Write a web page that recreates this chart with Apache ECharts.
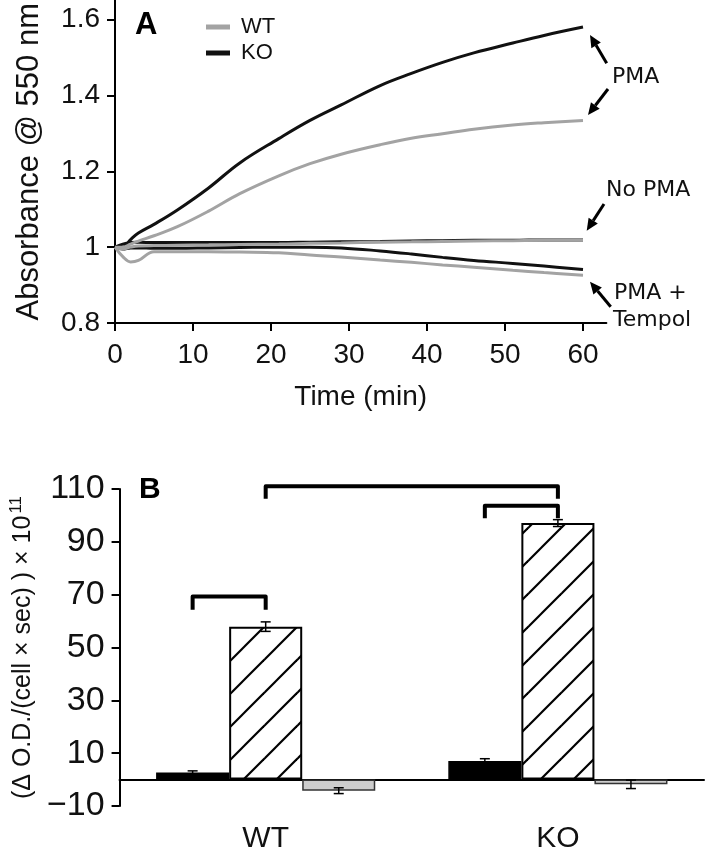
<!DOCTYPE html>
<html><head><meta charset="utf-8">
<script src="https://cdn.jsdelivr.net/npm/echarts@6/dist/echarts.min.js"></script>
<style>html,body{margin:0;padding:0;background:#fff}#c{width:709px;height:854px}</style>
</head><body><div id="c"></div>
<script>
// ---- Panel A data (time in min, absorbance @ 550 nm) ----
const timeMin   = [0, 1, 2, 3, 5, 8, 12, 16, 21, 25, 29, 34, 38, 42, 46, 51, 55, 60];
const koPMA     = [1.0, 1.0, 1.02, 1.037, 1.06, 1.098, 1.156, 1.222, 1.286, 1.334, 1.375, 1.426, 1.458, 1.487, 1.512, 1.538, 1.558, 1.58];
const koNoPMA   = [1.0, 1.008, 1.012, 1.013, 1.012, 1.012, 1.012, 1.012, 1.012, 1.013, 1.014, 1.015, 1.016, 1.017, 1.018, 1.018, 1.019, 1.019];
const koTempol  = [1.0, 0.995, 0.998, 0.998, 0.997, 0.997, 0.998, 0.999, 1.0, 1.0, 0.998, 0.99, 0.982, 0.973, 0.965, 0.957, 0.95, 0.941];
const wtPMA     = [1.0, 1.0, 1.008, 1.016, 1.03, 1.054, 1.095, 1.141, 1.188, 1.22, 1.245, 1.27, 1.287, 1.299, 1.311, 1.322, 1.328, 1.334];
const wtNoPMA   = [1.0, 0.995, 1.0, 1.003, 1.004, 1.005, 1.006, 1.007, 1.008, 1.01, 1.011, 1.013, 1.014, 1.015, 1.016, 1.017, 1.018, 1.018];
const wtTempol  = [1.0, 0.975, 0.961, 0.965, 0.988, 0.988, 0.988, 0.987, 0.985, 0.979, 0.974, 0.966, 0.96, 0.953, 0.947, 0.939, 0.933, 0.926];
const xTicksA   = [0, 10, 20, 30, 40, 50, 60];
const yTicksA   = [0.8, 1.0, 1.2, 1.4, 1.6];

// ---- Panel B data ----
const groups      = ['WT', 'KO'];
const ctrlVals    = [2.7, 7.0];
const ctrlErr     = [0.6, 0.9];
const pmaVals     = [57.9, 97.1];
const pmaErr      = [1.8, 1.3];
const tempolVals  = [-4.2, -1.8];
const tempolErr   = [1.1, 1.6];
const yTicksB     = [-10, 10, 30, 50, 70, 90, 110];
// brackets: [leftGroup, leftBar, rightGroup, rightBar, topValue, legEndValue]
const brackets    = [[0, 0, 0, 1, 69.3, 64.3], [1, 0, 1, 1, 103.7, 98.9], [0, 1, 1, 1, 111, 106.3]];

const GRAY = '#a3a3a3', BLACK = '#111';
const FONT = '"Liberation Sans", Arial, sans-serif';
const DFONT = '"DejaVu Sans", sans-serif';

function pts(arr) { return timeMin.map((t, i) => [t, arr[i]]); }
function lineSeries(name, arr, color) {
  return { type: 'line', name: name, xAxisIndex: 0, yAxisIndex: 0, data: pts(arr), showSymbol: false,
    smooth: 0.4, color: color, lineStyle: { color: color, width: 3 }, itemStyle: { color: color }, animation: false };
}
function hatch() {
  const s = 33, c = document.createElement('canvas'); c.width = s; c.height = s;
  const g = c.getContext('2d'); g.fillStyle = '#fff'; g.fillRect(0, 0, s, s);
  g.strokeStyle = '#000'; g.lineWidth = 2.2;
  for (const o of [-s, 0, s]) { g.beginPath(); g.moveTo(o - 1, s + 1); g.lineTo(o + s + 1, -1); g.stroke(); }
  return c;
}
function errSeries(vals, errs, barIdx) {
  return { type: 'custom', xAxisIndex: 1, yAxisIndex: 1, z: 5, animation: false,
    data: vals.map((v, i) => [i, v, errs[i]]),
    renderItem: function (params, api) {
      const bw = api.size([1, 0])[0];
      const c = api.coord([api.value(0), api.value(1)]);
      const x = c[0] + (barIdx - 1) * bw * 0.25;
      const y1 = api.coord([api.value(0), api.value(1) + api.value(2)])[1];
      const y2 = api.coord([api.value(0), api.value(1) - api.value(2)])[1];
      const st = { stroke: '#000', lineWidth: 1.5 };
      return { type: 'group', children: [
        { type: 'line', shape: { x1: x, y1: y1, x2: x, y2: y2 }, style: st },
        { type: 'line', shape: { x1: x - 5, y1: y1, x2: x + 5, y2: y1 }, style: st },
        { type: 'line', shape: { x1: x - 5, y1: y2, x2: x + 5, y2: y2 }, style: st } ] };
    } };
}
function arrow(x1, y1, x2, y2) {
  const a = Math.atan2(y2 - y1, x2 - x1), L = 12, W = 5.5;
  const bx = x2 - L * Math.cos(a), by = y2 - L * Math.sin(a);
  return [
    { type: 'line', shape: { x1: x1, y1: y1, x2: bx, y2: by }, style: { stroke: '#000', lineWidth: 3 } },
    { type: 'polygon', shape: { points: [[x2, y2], [bx + W * Math.sin(a), by - W * Math.cos(a)], [bx - W * Math.sin(a), by + W * Math.cos(a)]] }, style: { fill: '#000' } }
  ];
}

const chart = echarts.init(document.getElementById('c'), null, { renderer: 'canvas' });
const axisLineStyle = { color: '#000', width: 2 };
const option = {
  backgroundColor: '#fff',
  animation: false,
  grid: [
    { left: 115, top: 0, width: 491.4, height: 323 },
    { left: 116, top: 489, width: 588, height: 336 }
  ],
  legend: { data: ['WT', 'KO'], orient: 'vertical', left: 201, top: 11, icon: 'rect', itemWidth: 24, itemHeight: 5,
    itemGap: 4, textStyle: { fontFamily: FONT, fontSize: 22, color: '#111', padding: [0, 0, 0, 6] }, selectedMode: false },
  xAxis: [
    { type: 'value', gridIndex: 0, min: 0, max: 63, name: 'Time (min)', nameLocation: 'middle', nameGap: 60,
      nameTextStyle: { fontFamily: FONT, fontSize: 28, color: '#111' },
      axisLine: { lineStyle: axisLineStyle }, splitLine: { show: false },
      axisTick: { customValues: xTicksA, length: 8, lineStyle: { color: '#000', width: 2 } },
      axisLabel: { customValues: xTicksA, fontFamily: FONT, fontSize: 28, color: '#111', margin: 18 } },
    { type: 'category', gridIndex: 1, data: groups, axisLine: { onZero: true, lineStyle: axisLineStyle },
      axisTick: { show: false }, axisLabel: { fontFamily: FONT, fontSize: 30, color: '#111', margin: 18 } }
  ],
  yAxis: [
    { type: 'value', gridIndex: 0, min: 0.8, max: 1.65, name: 'Absorbance @ 550 nm', nameLocation: 'middle', nameGap: 70,
      nameTextStyle: { fontFamily: FONT, fontSize: 31, color: '#111' },
      axisLine: { show: true, lineStyle: axisLineStyle }, splitLine: { show: false },
      axisTick: { show: true, customValues: yTicksA, length: 8, lineStyle: { color: '#000', width: 2 } },
      axisLabel: { customValues: yTicksA, fontFamily: FONT, fontSize: 28, color: '#111', margin: 15,
        formatter: v => (Math.abs(v - 1) < 1e-9 ? '1' : v.toFixed(1)) } },
    { type: 'value', gridIndex: 1, min: -10, max: 110,
      name: '{a|(Δ O.D./(cell × sec) ) × 10}{s|11}', nameLocation: 'middle', nameGap: 72,
      nameTextStyle: { rich: { a: { fontFamily: FONT, fontSize: 25, color: '#111' }, s: { fontFamily: FONT, fontSize: 17, color: '#111', padding: [0, 0, 14, 2] } } },
      axisLine: { show: true, lineStyle: axisLineStyle }, splitLine: { show: false },
      axisTick: { show: true, customValues: yTicksB, length: 8, lineStyle: { color: '#000', width: 2 } },
      axisLabel: { customValues: yTicksB, fontFamily: '"Liberation Sans Narrow", ' + FONT, fontSize: 34, color: '#111', margin: 15,
        formatter: v => String(v).replace('-', '\u2212') } }
  ],
  series: [
    lineSeries('KO', koNoPMA, BLACK), lineSeries('KO', koTempol, BLACK), lineSeries('KO', koPMA, BLACK),
    lineSeries('WT', wtNoPMA, GRAY), lineSeries('WT', wtTempol, GRAY), lineSeries('WT', wtPMA, GRAY),
    { type: 'bar', name: 'Control', xAxisIndex: 1, yAxisIndex: 1, data: ctrlVals, barGap: '0%', barCategoryGap: '25%',
      itemStyle: { color: '#000', borderColor: '#000', borderWidth: 1.5 } },
    { type: 'bar', name: 'PMA', xAxisIndex: 1, yAxisIndex: 1, data: pmaVals, barGap: '0%', barCategoryGap: '25%',
      itemStyle: { color: { image: hatch(), repeat: 'repeat' }, borderColor: '#000', borderWidth: 2 } },
    { type: 'bar', name: 'PMA + Tempol', xAxisIndex: 1, yAxisIndex: 1, data: tempolVals, barGap: '0%', barCategoryGap: '25%',
      itemStyle: { color: '#cdcdcd', borderColor: '#333', borderWidth: 1.5 } },
    errSeries(ctrlVals, ctrlErr, 0), errSeries(pmaVals, pmaErr, 1), errSeries(tempolVals, tempolErr, 2),
    { type: 'custom', xAxisIndex: 1, yAxisIndex: 1, z: 6, animation: false, data: brackets,
      renderItem: function (params, api) {
        const bw = api.size([1, 0])[0];
        const xl = api.coord([api.value(0), 0])[0] + (api.value(1) - 1) * bw * 0.25;
        const xr = api.coord([api.value(2), 0])[0] + (api.value(3) - 1) * bw * 0.25;
        const yt = api.coord([0, api.value(4)])[1], yl = api.coord([0, api.value(5)])[1];
        return { type: 'polyline', shape: { points: [[xl, yl], [xl, yt], [xr, yt], [xr, yl]] },
          style: { stroke: '#000', lineWidth: 4, fill: null, lineJoin: 'round' } };
      } }
  ],
  graphic: [
    { type: 'text', left: 135, top: 10, style: { text: 'A', font: 'bold 31px ' + FONT, fill: '#000' } },
    { type: 'text', left: 139, top: 475, style: { text: 'B', font: 'bold 30px ' + FONT, fill: '#000' } },
    { type: 'text', left: 612, top: 66, style: { text: 'PMA', font: '22px ' + DFONT, fill: '#111' } },
    { type: 'text', left: 606, top: 179, style: { text: 'No PMA', font: '22px ' + DFONT, fill: '#111' } },
    { type: 'text', left: 614, top: 282, style: { text: 'PMA +', font: '22px ' + DFONT, fill: '#111' } },
    { type: 'text', left: 613, top: 309, style: { text: 'Tempol', font: '22px ' + DFONT, fill: '#111' } }
  ].concat(arrow(606.7, 63.3, 590, 35), arrow(608, 89, 588, 115), arrow(604, 204, 586.7, 230.7), arrow(610.7, 306.7, 590, 281.7))
};
chart.setOption(option);
</script>
</body></html>
